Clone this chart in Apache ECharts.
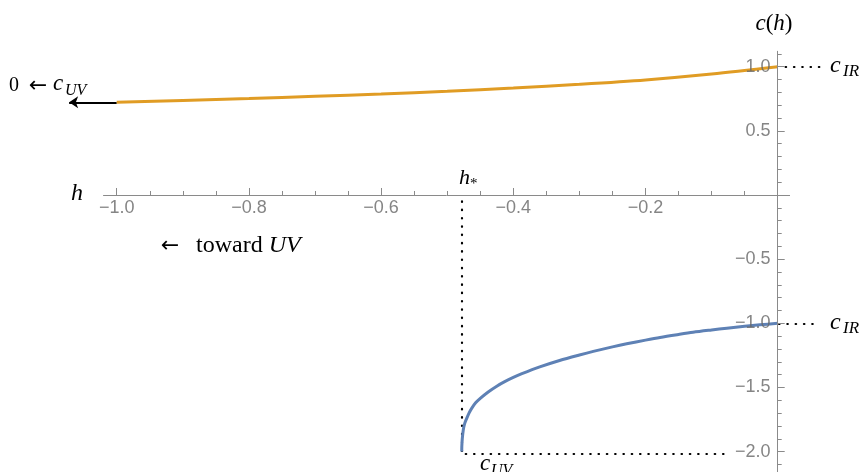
<!DOCTYPE html>
<html>
<head>
<meta charset="utf-8">
<script src="https://cdn.jsdelivr.net/npm/echarts@6/dist/echarts.min.js"></script>
<style>
  html, body { margin: 0; padding: 0; background: #fff; }
  #chart { width: 867px; height: 472px; }
</style>
</head>
<body>
<div id="chart"></div>
<script>
// ---- data ----
const hOrange = [-1.0, -0.9, -0.8, -0.7, -0.6, -0.5, -0.4, -0.3, -0.2, -0.1, 0.0];
const cOrange = [0.722, 0.737, 0.752, 0.769, 0.787, 0.808, 0.834, 0.863, 0.897, 0.943, 1.0];

const hBlue = [-0.478, -0.47795, -0.4778, -0.4772, -0.4757, -0.4735, -0.4705, -0.467, -0.463, -0.457,
               -0.450, -0.438, -0.425, -0.413, -0.400, -0.387, -0.360, -0.330, -0.300, -0.279,
               -0.250, -0.2285, -0.200, -0.178, -0.150, -0.128, -0.100, -0.077, -0.050, -0.027, 0.0];
const cBlue = [-2.0, -1.97, -1.95, -1.90, -1.832, -1.78, -1.741, -1.70, -1.663, -1.62,
               -1.585, -1.535, -1.49, -1.455, -1.422, -1.393, -1.34, -1.29, -1.247, -1.219,
               -1.184, -1.16, -1.131, -1.11, -1.087, -1.07, -1.052, -1.038, -1.023, -1.012, -1.0];

const hStar = -0.478;
const cUV = -2.0;
const cIR = [1.0, -1.0];
const arrowFrom = [-1.0, 0.722];
const arrowTo = [-1.072, 0.722];

const xMajor = [-1.0, -0.8, -0.6, -0.4, -0.2];
const xMajorLabels = ['\u22121.0', '\u22120.8', '\u22120.6', '\u22120.4', '\u22120.2'];
const xMinor = [-0.95, -0.9, -0.85, -0.75, -0.7, -0.65, -0.55, -0.5, -0.45, -0.35, -0.3, -0.25, -0.15, -0.1, -0.05];
const yMajor = [1.0, 0.5, -0.5, -1.0, -1.5, -2.0];
const yMajorLabels = ['1.0', '0.5', '\u22120.5', '\u22121.0', '\u22121.5', '\u22122.0'];
const yMinor = [1.1, 0.9, 0.8, 0.7, 0.6, 0.4, 0.3, 0.2, 0.1, -0.1, -0.2, -0.3, -0.4, -0.6, -0.7, -0.8, -0.9,
                -1.1, -1.2, -1.3, -1.4, -1.6, -1.7, -1.8, -1.9, -2.1];

// ---- chart ----
const zip = (a, b) => a.map((v, i) => [v, b[i]]);
const axisGray = '#8a8a8a';
const labelGray = '#666666';
const sans = '"Liberation Sans", Arial, sans-serif';
const serif = '"Liberation Serif", "DejaVu Serif", serif';

const xRange = { min: -1.02, max: 0.018 };
const yRange = { min: -2.17, max: 1.12 };

const dotted = { color: '#000', width: 2.2, type: [0.5, 7.8], cap: 'round', opacity: 1 };

function baseAxis(range, pos, ticks, len, showLine) {
  return {
    type: 'value', min: range.min, max: range.max, position: pos, z: 3,
    axisLine: { show: true, onZero: true, onZeroAxisIndex: 0,
                lineStyle: { color: axisGray, width: 1, opacity: showLine ? 1 : 0 } },
    axisTick: { show: true, inside: true, length: len, customValues: ticks, lineStyle: { color: axisGray } },
    axisLabel: { show: false },
    splitLine: { show: false }
  };
}

function dottedSeg(name, from, to) {
  return {
    name, type: 'lines', coordinateSystem: 'cartesian2d', xAxisIndex: 0, yAxisIndex: 0,
    silent: true, clip: false, symbol: ['none', 'none'],
    data: [{ coords: [from, to] }], lineStyle: dotted, z: 1
  };
}

function tickLabels(name, pts, texts, position, distance) {
  return {
    name, type: 'scatter', xAxisIndex: 0, yAxisIndex: 0, silent: true, clip: false,
    symbol: 'circle', symbolSize: 0.5, itemStyle: { color: 'rgba(0,0,0,0)' }, z: 5,
    data: pts,
    label: { show: true, position, distance, formatter: p => texts[p.dataIndex],
             color: labelGray, fontSize: 18, fontFamily: sans }
  };
}

const option = {
  backgroundColor: '#fff',
  animation: false,
  grid: { left: 103.5, top: 51.3, width: 686.1, height: 422.1, containLabel: false, outerBoundsMode: 'none' },
  xAxis: [
    baseAxis(xRange, 'bottom', xMajor, 7, true),
    baseAxis(xRange, 'bottom', xMinor, 4, false)
  ],
  yAxis: [
    baseAxis(yRange, 'left', yMajor, 7, true),
    baseAxis(yRange, 'left', yMinor, 4, false)
  ],
  series: [
    dottedSeg('hstar-vertical', [hStar, -0.05], [hStar, cUV]),
    dottedSeg('cuv-horizontal', [hStar + 0.006, cUV - 0.02], [-0.08, cUV - 0.02]),
    dottedSeg('cir-top', [0.012, cIR[0]], [0.064, cIR[0]]),
    dottedSeg('cir-bottom', [0.002, cIR[1]], [0.064, cIR[1]]),
    {
      name: 'orange', type: 'line', xAxisIndex: 0, yAxisIndex: 0, symbol: 'none', silent: true, clip: false,
      smooth: 0.3, data: zip(hOrange, cOrange),
      lineStyle: { color: '#E09C24', width: 3 }, z: 2
    },
    {
      name: 'blue', type: 'line', xAxisIndex: 0, yAxisIndex: 0, symbol: 'none', silent: true, clip: false,
      smooth: 0.3, data: zip(hBlue, cBlue),
      lineStyle: { color: '#5E81B5', width: 3, join: 'round' }, z: 2
    },
    {
      name: 'arrow', type: 'lines', coordinateSystem: 'cartesian2d', xAxisIndex: 0, yAxisIndex: 0, silent: true,
      clip: false, symbol: ['none', 'arrow'], symbolSize: 9,
      data: [{ coords: [arrowFrom, arrowTo] }],
      lineStyle: { color: '#000', width: 2, opacity: 1 }, z: 2
    },
    tickLabels('x-tick-labels', xMajor.map(v => [v, 0]), xMajorLabels, 'bottom', 4),
    tickLabels('y-tick-labels', yMajor.map(v => [0, v]), yMajorLabels, 'left', 7)
  ],
  graphic: [
    { type: 'text', x: 774, y: 24, style: { text: '{i|c}{r|(}{i|h}{r|)}', align: 'center', verticalAlign: 'middle',
      rich: { i: { fontFamily: serif, fontStyle: 'italic', fontSize: 23, fill: '#000' },
              r: { fontFamily: serif, fontSize: 23, fill: '#000' } } } },
    { type: 'text', x: 830, y: 66, style: { text: 'c', font: 'italic 24px ' + serif, fill: '#000', verticalAlign: 'middle' } },
    { type: 'text', x: 843, y: 72, style: { text: 'IR', font: 'italic 17px ' + serif, fill: '#000', verticalAlign: 'middle' } },
    { type: 'text', x: 830, y: 322.5, style: { text: 'c', font: 'italic 24px ' + serif, fill: '#000', verticalAlign: 'middle' } },
    { type: 'text', x: 843, y: 328.5, style: { text: 'IR', font: 'italic 17px ' + serif, fill: '#000', verticalAlign: 'middle' } },
    { type: 'text', x: 9, y: 86, style: { text: '0', font: '20px ' + serif, fill: '#000', verticalAlign: 'middle' } },
    { type: 'text', x: 38, y: 86, style: { text: '\u2190', font: '22px "DejaVu Sans", sans-serif', fill: '#000', align: 'center', verticalAlign: 'middle' } },
    { type: 'text', x: 53, y: 84, style: { text: 'c', font: 'italic 23px ' + serif, fill: '#000', verticalAlign: 'middle' } },
    { type: 'text', x: 65, y: 91, style: { text: 'UV', font: 'italic 16px ' + serif, fill: '#000', verticalAlign: 'middle' } },
    { type: 'text', x: 71, y: 194, style: { text: 'h', font: 'italic 24px ' + serif, fill: '#000', verticalAlign: 'middle' } },
    { type: 'text', x: 459, y: 178, style: { text: 'h', font: 'italic 22px ' + serif, fill: '#000', verticalAlign: 'middle' } },
    { type: 'text', x: 470, y: 184, style: { text: '*', font: '15px ' + serif, fill: '#000', verticalAlign: 'middle' } },
    { type: 'text', x: 170, y: 246, style: { text: '\u2190', font: '22px "DejaVu Sans", sans-serif', fill: '#000', align: 'center', verticalAlign: 'middle' } },
    { type: 'text', x: 196, y: 246, style: { text: '{r|toward }{i|UV}', verticalAlign: 'middle',
      rich: { i: { fontFamily: serif, fontStyle: 'italic', fontSize: 24, fill: '#000' },
              r: { fontFamily: serif, fontSize: 24, fill: '#000' } } } },
    { type: 'text', x: 480, y: 464, style: { text: 'c', font: 'italic 23px ' + serif, fill: '#000', verticalAlign: 'middle' } },
    { type: 'text', x: 491, y: 471, style: { text: 'UV', font: 'italic 16px ' + serif, fill: '#000', verticalAlign: 'middle' } }
  ]
};

const chart = echarts.init(document.getElementById('chart'), null, { renderer: 'canvas' });
chart.setOption(option);
</script>
</body>
</html>
